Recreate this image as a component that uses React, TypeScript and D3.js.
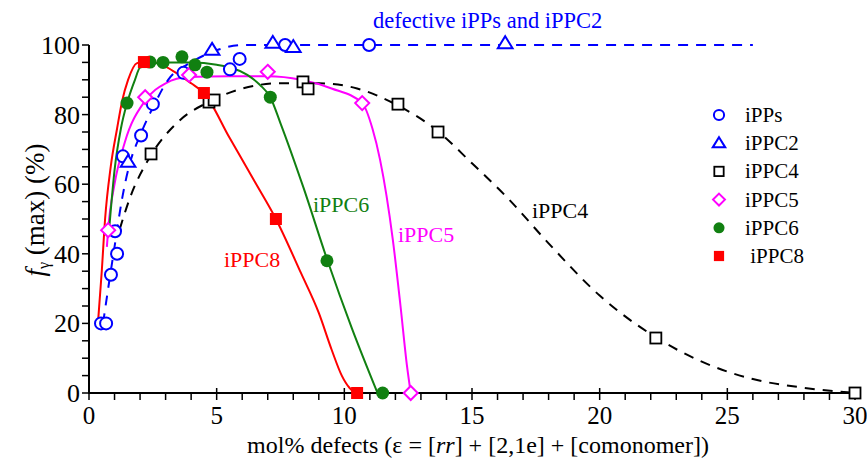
import React from "react";
import * as d3 from "d3";

// measured points
const ippsPts: [number, number][] = [
  [0.47, 20], [0.67, 20], [0.86, 34], [1.02, 46.5], [1.1, 40], [1.33, 68],
  [2.04, 74], [2.5, 83], [3.7, 92], [5.52, 93], [5.9, 96], [7.68, 100], [10.97, 100],
];
const ippc2Pts: [number, number][] = [
  [1.53, 66.4], [4.82, 98.6], [7.2, 100.6], [8.0, 99.4], [16.3, 100.5],
];
const ippc4Pts: [number, number][] = [
  [2.43, 68.7], [4.7, 83.6], [4.9, 84.2], [8.38, 89.4], [8.58, 87.4],
  [12.1, 83], [13.67, 75], [22.2, 15.8], [30, 0],
];
const ippc5Pts: [number, number][] = [
  [0.75, 46.8], [2.2, 85], [3.92, 91.4], [7.0, 92.3], [10.7, 83.3], [12.6, 0],
];
const ippc6Pts: [number, number][] = [
  [1.49, 83.3], [2.39, 95.1], [2.9, 95], [3.64, 96.6], [4.15, 94.3],
  [4.62, 92.2], [7.1, 85], [9.32, 38], [11.5, 0],
];
const ippc8Pts: [number, number][] = [
  [2.15, 95.1], [4.5, 86.2], [7.32, 50], [10.5, 0],
];

// guide curves
const blueCurve: [number, number][] = [
  [0.55, 20], [0.75, 30], [1.0, 42], [1.3, 56], [1.6, 66], [2.0, 74], [2.5, 82],
  [3.1, 90], [4.0, 95], [5.0, 98.5], [6.0, 100], [26, 100],
];
const blackCurve: [number, number][] = [
  [1.2, 47], [1.6, 56], [2.4, 68], [3.5, 78], [4.8, 84], [6, 87.5], [7.5, 89],
  [9, 89], [10.5, 87.5], [12, 83], [13.7, 75], [15, 66], [16.4, 56], [18, 43],
  [20, 28], [22.2, 16], [24, 9], [26, 4], [28, 1.5], [30, 0],
];
const magentaCurve: [number, number][] = [
  [0.7, 42], [0.75, 47], [1.0, 60], [1.4, 72], [2.2, 84], [3.0, 89], [3.9, 90.8],
  [5.5, 91], [7, 91], [8.3, 90], [9.5, 87.5], [10.7, 83.3], [11.1, 76],
  [11.4, 67], [11.9, 44], [12.2, 25], [12.45, 8], [12.6, 0],
];
const greenCurve: [number, number][] = [
  [0.8, 48], [1.0, 64], [1.25, 76], [1.49, 83.3], [1.8, 90], [2.0, 93.5],
  [3, 95], [4, 95], [5, 94.3], [6.2, 91.4], [6.7, 88.5], [7.1, 85], [7.5, 77.5],
  [8.4, 59], [9.32, 38.5], [10.3, 18.5], [11.3, 0],
];
const greenTail: [number, number][] = [[11.3, 0], [11.5, 0]];
const redCurve: [number, number][] = [
  [0.35, 20], [0.5, 35], [0.63, 50], [0.85, 65], [1.1, 76], [1.3, 84],
  [1.53, 90], [1.88, 94.8], [2.15, 95.1], [2.6, 95], [3.3, 92.5], [4.0, 89],
  [4.5, 86.2], [5.5, 73.4], [6.5, 60.6], [7.32, 50], [8.3, 34.5], [9.0, 23],
  [9.5, 12.5], [9.9, 5], [10.2, 1.5], [10.5, 0], [12.5, 0],
];

const xTicks = [0, 5, 10, 15, 20, 25, 30];
const yTicks = [0, 20, 40, 60, 80, 100];
const legendNames = ["iPPs", "iPPC2", "iPPC4", "iPPC5", "iPPC6", " iPPC8"];
const legendKinds = ["circle", "triangle", "square", "diamond", "dot", "fsquare"];
const legendColors = ["#0000ff", "#0000ff", "#000000", "#ff00ff", "#118011", "#ff0000"];

const FONT = "'Liberation Serif', 'Times New Roman', serif";

function Marker({ kind, x, y, color, s = 1 }: { kind: string; x: number; y: number; color: string; s?: number }) {
  if (kind === "circle")
    return <circle cx={x} cy={y} r={6 * s} fill="white" stroke={color} strokeWidth={2} />;
  if (kind === "dot") return <circle cx={x} cy={y} r={6.5 * s} fill={color} />;
  if (kind === "triangle") {
    const h = 7 * s;
    return (
      <path d={`M${x},${y - h}L${x + h * 1.05},${y + h * 0.7}L${x - h * 1.05},${y + h * 0.7}Z`}
        fill="white" stroke={color} strokeWidth={2} />
    );
  }
  if (kind === "square")
    return <rect x={x - 5.5 * s} y={y - 5.5 * s} width={11 * s} height={11 * s} fill="white" stroke={color} strokeWidth={1.8} />;
  if (kind === "fsquare")
    return <rect x={x - 6 * s} y={y - 6 * s} width={12 * s} height={12 * s} fill={color} />;
  const r = 7 * s;
  return <path d={`M${x},${y - r}L${x + r},${y}L${x},${y + r}L${x - r},${y}Z`} fill="white" stroke={color} strokeWidth={2} />;
}

export default function App() {
  const W = 867, H = 460;
  const x = d3.scaleLinear().domain([0, 30]).range([89, 855]);
  const y = d3.scaleLinear().domain([0, 100]).range([393, 45]);
  const line = d3.line<[number, number]>()
    .x(d => x(d[0]))
    .y(d => y(d[1]))
    .curve(d3.curveMonotoneX);
  const xMinor = d3.range(0, 31, 1);
  const yMinor = d3.range(0, 101, 5);

  const series = [
    { pts: ippsPts, kind: "circle", color: "#0000ff" },
    { pts: ippc2Pts, kind: "triangle", color: "#0000ff" },
    { pts: ippc4Pts, kind: "square", color: "#000000" },
    { pts: ippc5Pts, kind: "diamond", color: "#ff00ff" },
    { pts: ippc6Pts, kind: "dot", color: "#118011" },
    { pts: ippc8Pts, kind: "fsquare", color: "#ff0000" },
  ];

  return (
    <svg width={W} height={H} style={{ position: "absolute", left: 0, top: 0, background: "white" }} fontFamily={FONT}>
      {/* curves */}
      <path d={line(blackCurve) ?? ""} fill="none" stroke="#000" strokeWidth={2} strokeDasharray="10,8" />
      <path d={line(magentaCurve) ?? ""} fill="none" stroke="#ff00ff" strokeWidth={2} />
      <path d={line(redCurve) ?? ""} fill="none" stroke="#ff0000" strokeWidth={2} />
      <path d={line(greenCurve) ?? ""} fill="none" stroke="#118011" strokeWidth={2} />
      <path d={line(greenTail) ?? ""} fill="none" stroke="#118011" strokeWidth={2} />
      <path d={line(blueCurve) ?? ""} fill="none" stroke="#0000ff" strokeWidth={2} strokeDasharray="10,8" />

      {/* axes */}
      <line x1={x(0)} x2={x(30)} y1={y(0)} y2={y(0)} stroke="#000" strokeWidth={2} />
      <line x1={x(0)} x2={x(0)} y1={y(0) + 1} y2={y(100)} stroke="#000" strokeWidth={2} />
      {xMinor.map(t => (
        <line key={"xm" + t} x1={x(t)} x2={x(t)} y1={y(0) - (t % 5 === 0 ? 5 : 0)} y2={y(0) + 7} stroke="#000" strokeWidth={1.5} />
      ))}
      {yMinor.map(t => (
        <line key={"ym" + t} x1={x(0) - 7} x2={x(0)} y1={y(t)} y2={y(t)} stroke="#000" strokeWidth={1.5} />
      ))}
      {xTicks.map(t => (
        <text key={"xt" + t} x={x(t)} y={424} textAnchor="middle" fontSize={25}>{t}</text>
      ))}
      {yTicks.map(t => (
        <text key={"yt" + t} x={x(0) - 9} y={y(t) + 9} textAnchor="end" fontSize={26}>{t}</text>
      ))}
      <text x={478} y={453} textAnchor="middle" fontSize={24}>
        mol% defects (ε = [<tspan fontStyle="italic">rr</tspan>] + [2,1e] + [comonomer])
      </text>
      <text transform="translate(44,210) rotate(-90)" textAnchor="middle" fontSize={27}>
        <tspan fontStyle="italic">f</tspan>
        <tspan fontSize={16} dy={5}>γ</tspan>
        <tspan dy={-5}> (max) (%)</tspan>
      </text>

      {/* markers */}
      {series.map((s, i) => (
        <g key={i}>
          {s.pts.map((p, j) => (
            <Marker key={j} kind={s.kind} x={x(p[0])} y={y(p[1])} color={s.color} />
          ))}
        </g>
      ))}

      {/* annotations */}
      <text x={373} y={28} fontSize={22.5} fill="#0000ff">defective iPPs and iPPC2</text>
      <text x={532} y={218} fontSize={22} fill="#000">iPPC4</text>
      <text x={313} y={212} fontSize={22} fill="#118011">iPPC6</text>
      <text x={398} y={242} fontSize={22} fill="#ff00ff">iPPC5</text>
      <text x={224} y={267} fontSize={22} fill="#ff0000">iPPC8</text>

      {/* legend */}
      {legendNames.map((n, i) => (
        <g key={"lg" + i}>
          <Marker kind={legendKinds[i]} x={719} y={115 + i * 28.2} color={legendColors[i]} s={0.85} />
          <text x={745} y={115 + i * 28.2 + 7} fontSize={21} style={{ whiteSpace: "pre" }}>{n}</text>
        </g>
      ))}
    </svg>
  );
}
